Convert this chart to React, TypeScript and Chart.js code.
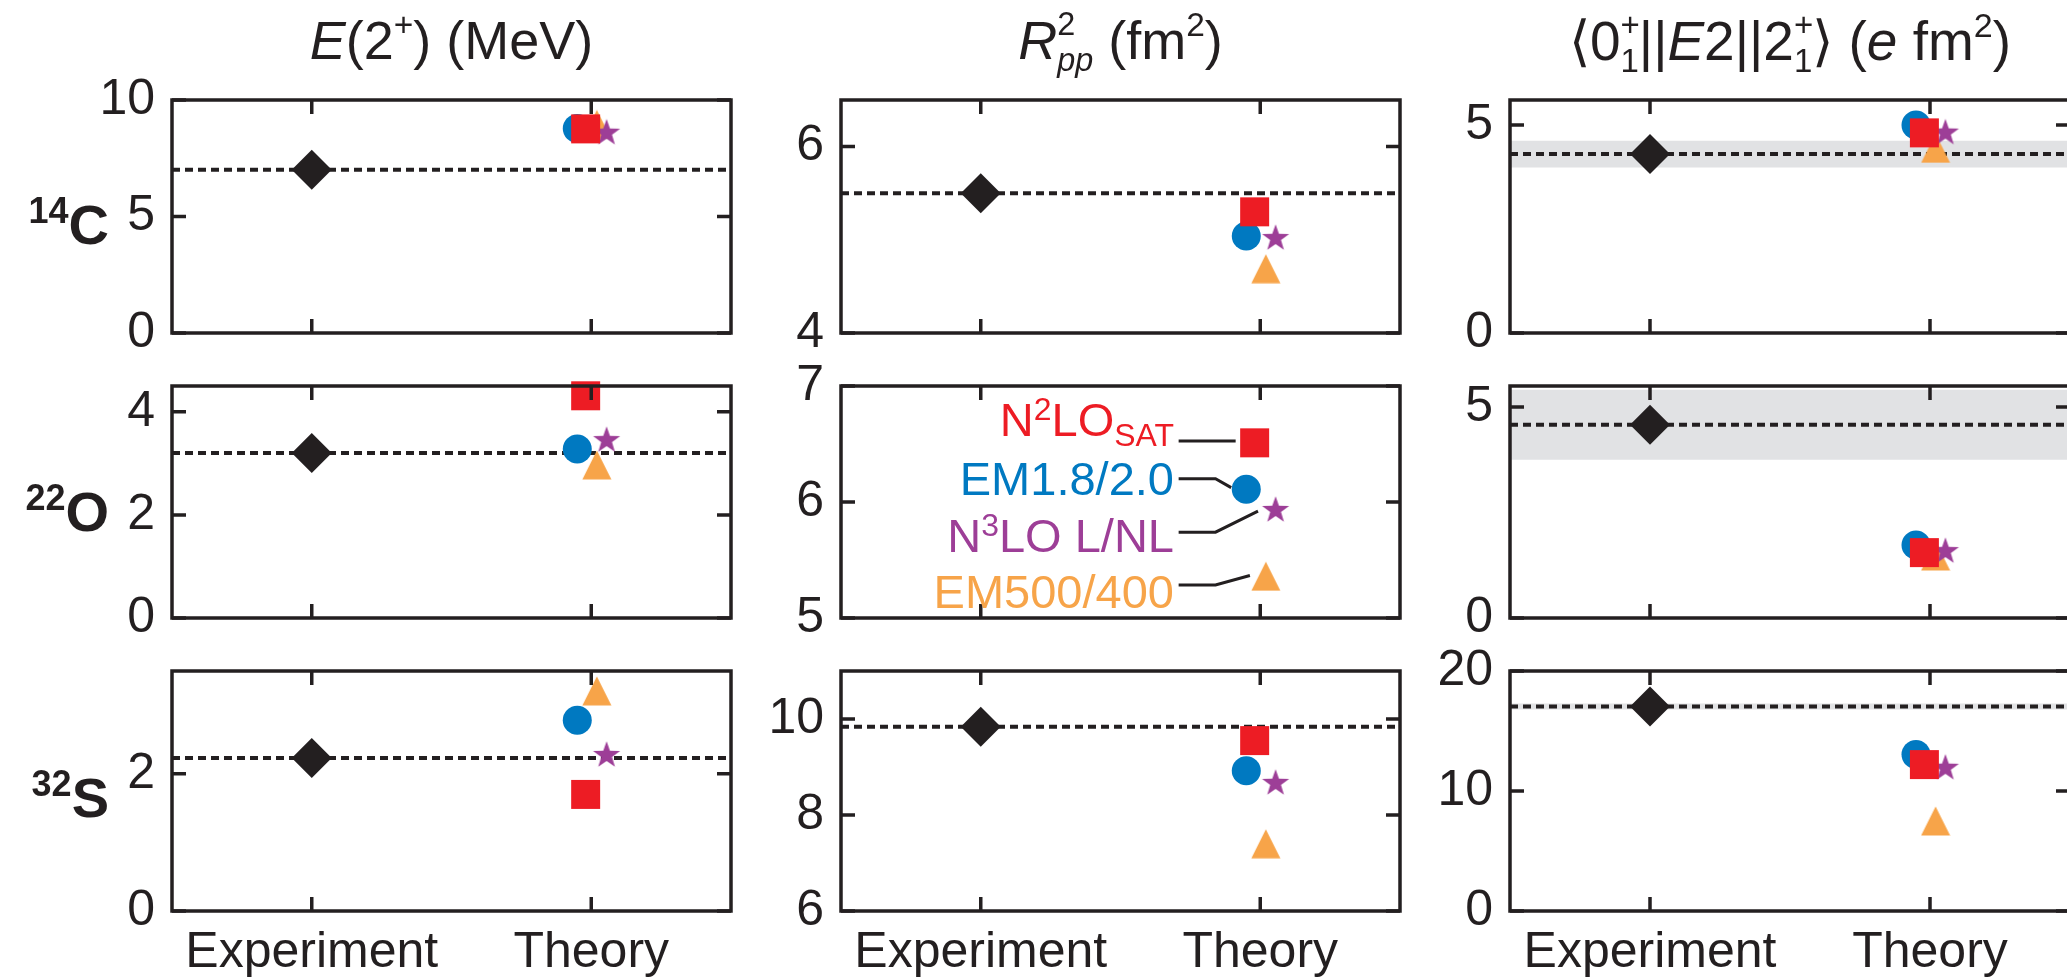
import React, { useEffect, useRef } from "react";
import { Chart, registerables } from "chart.js";
Chart.register(...registerables);

const FONT = "'Liberation Sans', Arial, sans-serif";
const INK = "#231F20";
const RED = "#ED1C24";
const BLUE = "#0079C1";
const PURPLE = "#9D3E97";
const ORANGE = "#F7A449";
const BAND = "#E1E2E4";

Chart.defaults.font.family = FONT;
Chart.defaults.color = INK;

// ---------------- data ----------------
const nuclei = ["14C", "22O", "32S"];
const xLabels = ["Experiment", "Theory"];
const xExperiment = 1;
const xTheoryN2LO = 1.98;
const xTheoryEM18 = 1.95;
const xTheoryN3LO = 2.055;
const xTheoryEM500 = 2.02;

// experiment (rows: 14C, 22O, 32S)
const expE2 = [7.01, 3.2, 2.23];
const expRpp2: (number | null)[] = [5.5, null, 9.84];
const expBE2 = [4.3, 4.58, 17.04];
const expBE2Err = [0.32, 0.83, 0.25];

// theory: E(2+) (MeV)
const n2loSatE2 = [8.76, 4.31, 1.7];
const em1820E2 = [8.78, 3.28, 2.78];
const n3loE2 = [8.64, 3.47, 2.29];
const em500E2 = [8.95, 2.97, 3.21];
// theory: Rpp^2 (fm^2)
const n2loSatRpp2 = [5.3, 6.51, 9.55];
const em1820Rpp2 = [5.04, 6.11, 8.92];
const n3loRpp2 = [5.03, 5.94, 8.69];
const em500Rpp2 = [4.69, 5.36, 7.4];
// theory: <0||E2||2> (e fm^2)
const n2loSatBE2 = [4.81, 1.55, 12.2];
const em1820BE2 = [5.0, 1.73, 13.04];
const n3loBE2 = [4.84, 1.61, 12.02];
const em500BE2 = [4.44, 1.47, 7.5];

// axes (rows x cols)
const yMinE2 = [0, 0, 0];
const yMaxE2 = [10, 4.5, 3.5];
const yTicksE2 = [[0, 5, 10], [0, 2, 4], [0, 2]];
const yMinRpp2 = [4, 5, 6];
const yMaxRpp2 = [6.5, 7, 11];
const yTicksRpp2 = [[4, 6], [5, 6, 7], [6, 8, 10]];
const yMinBE2 = [0, 0, 0];
const yMaxBE2 = [5.6, 5.5, 20];
const yTicksBE2 = [[0, 5], [0, 5], [0, 10, 20]];

// legend connector lines (22O, Rpp^2 panel), data coordinates
const connN2LO = [[1.708, 6.526], [1.912, 6.526]];
const connEM18 = [[1.708, 6.201], [1.84, 6.201], [1.896, 6.124]];
const connN3LO = [[1.708, 5.74], [1.84, 5.74], [1.992, 5.921]];
const connEM500 = [[1.708, 5.285], [1.84, 5.285], [1.963, 5.366]];

// ---------------- layout ----------------
const COL_LEFT = [172, 841, 1510];
const COL_RIGHT = [731, 1400, 2070];
const ROW_TOP = [93, 379, 664];
const ROW_BOTTOM = [340, 625, 911];
const PAD_L = 110;
const PAD_T = 40;
const PAD_R = 40;
const TICK = 14;

function makeTriangle(color: string) {
  const c = document.createElement("canvas");
  c.width = 30;
  c.height = 30;
  const g = c.getContext("2d")!;
  g.beginPath();
  g.moveTo(15, 0.5);
  g.lineTo(29.5, 29.5);
  g.lineTo(0.5, 29.5);
  g.closePath();
  g.fillStyle = color;
  g.fill();
  return c;
}

function makeStar(color: string) {
  const c = document.createElement("canvas");
  c.width = 30;
  c.height = 28;
  const g = c.getContext("2d")!;
  const R = 14.2;
  const r = R * 0.4;
  const cx = 15;
  const cy = 14 + 0.0955 * R;
  g.beginPath();
  for (let i = 0; i < 10; i++) {
    const rad = i % 2 === 0 ? R : r;
    const a = -Math.PI / 2 + (i * Math.PI) / 5;
    const x = cx + rad * Math.cos(a);
    const y = cy + rad * Math.sin(a);
    if (i === 0) g.moveTo(x, y);
    else g.lineTo(x, y);
  }
  g.closePath();
  g.fillStyle = color;
  g.fill();
  return c;
}

const framePlugin = {
  id: "frame",
  afterDraw(chart: any) {
    const { ctx, chartArea: a, scales } = chart;
    ctx.save();
    ctx.strokeStyle = INK;
    ctx.lineWidth = 3.5;
    ctx.lineCap = "butt";
    ctx.strokeRect(a.left, a.top, a.right - a.left, a.bottom - a.top);
    ctx.beginPath();
    scales.y.ticks.forEach((t: any) => {
      const p = scales.y.getPixelForValue(t.value);
      ctx.moveTo(a.left, p);
      ctx.lineTo(a.left + TICK, p);
      ctx.moveTo(a.right, p);
      ctx.lineTo(a.right - TICK, p);
    });
    scales.x.ticks.forEach((t: any) => {
      const p = scales.x.getPixelForValue(t.value);
      ctx.moveTo(p, a.top);
      ctx.lineTo(p, a.top + TICK);
      ctx.moveTo(p, a.bottom);
      ctx.lineTo(p, a.bottom - TICK);
    });
    ctx.stroke();
    ctx.restore();
  },
};

function panelSpec(row: number, col: number) {
  if (col === 0)
    return {
      yMin: yMinE2[row], yMax: yMaxE2[row], yTicks: yTicksE2[row],
      exp: expE2[row] as number | null, err: 0,
      th: [n2loSatE2[row], n3loE2[row], em500E2[row], em1820E2[row]],
    };
  if (col === 1)
    return {
      yMin: yMinRpp2[row], yMax: yMaxRpp2[row], yTicks: yTicksRpp2[row],
      exp: expRpp2[row], err: 0,
      th: [n2loSatRpp2[row], n3loRpp2[row], em500Rpp2[row], em1820Rpp2[row]],
    };
  return {
    yMin: yMinBE2[row], yMax: yMaxBE2[row], yTicks: yTicksBE2[row],
    exp: expBE2[row] as number | null, err: expBE2Err[row],
    th: [n2loSatBE2[row], n3loBE2[row], em500BE2[row], em1820BE2[row]],
  };
}

function lineDs(pts: number[][], extra: any) {
  return {
    data: pts.map(([x, y]) => ({ x, y })),
    showLine: true,
    pointRadius: 0,
    pointHoverRadius: 0,
    borderColor: INK,
    borderWidth: 3,
    tension: 0,
    fill: false,
    ...extra,
  };
}

function Panel({ row, col }: { row: number; col: number }) {
  const ref = useRef<HTMLCanvasElement>(null);
  const plotW = COL_RIGHT[col] - COL_LEFT[col];
  const plotH = ROW_BOTTOM[row] - ROW_TOP[row];
  const xh = row === 2 ? 70 : 40;
  const w = plotW + PAD_L + PAD_R;
  const h = plotH + PAD_T + xh;
  useEffect(() => {
    const spec = panelSpec(row, col);
    const styles: any[] = ["rect", makeStar(PURPLE), makeTriangle(ORANGE), "circle"];
    const radii = [20.5, 15, 15, 14.5];
    const colors = [RED, PURPLE, ORANGE, BLUE];
    const xs = [xTheoryN2LO, xTheoryN3LO, xTheoryEM500, xTheoryEM18];
    const datasets: any[] = [];
    spec.th.forEach((v, i) => {
      datasets.push({
        data: [{ x: xs[i], y: v }],
        showLine: false,
        pointStyle: styles[i],
        pointRadius: radii[i],
        pointHoverRadius: radii[i],
        pointBackgroundColor: colors[i],
        backgroundColor: colors[i],
        pointBorderWidth: 0,
        borderWidth: 0,
        clip: false,
      });
    });
    if (spec.exp !== null) {
      datasets.push({
        data: [{ x: xExperiment, y: spec.exp }],
        showLine: false,
        pointStyle: "rectRot",
        pointRadius: 20,
        pointHoverRadius: 20,
        pointBackgroundColor: INK,
        backgroundColor: INK,
        pointBorderWidth: 0,
        borderWidth: 0,
        clip: false,
      });
      datasets.push(
        lineDs([[0.5, spec.exp], [2.5, spec.exp]], {
          borderDash: [8, 5],
          borderCapStyle: "butt",
          borderWidth: 4,
        })
      );
      if (spec.err > 0) {
        datasets.push(
          lineDs([[0.5, spec.exp + spec.err], [2.5, spec.exp + spec.err]], {
            borderColor: "rgba(0,0,0,0)", borderWidth: 0, fill: "+1", backgroundColor: BAND,
          })
        );
        datasets.push(
          lineDs([[0.5, spec.exp - spec.err], [2.5, spec.exp - spec.err]], {
            borderColor: "rgba(0,0,0,0)", borderWidth: 0,
          })
        );
      }
    }
    if (row === 1 && col === 1) {
      [connN2LO, connEM18, connN3LO, connEM500].forEach((c) => datasets.push(lineDs(c, {})));
    }
    const chart = new Chart(ref.current as HTMLCanvasElement, {
      type: "line",
      data: { datasets },
      options: {
        animation: false,
        responsive: false,
        maintainAspectRatio: false,
        events: [],
        layout: { padding: { left: 0, top: PAD_T, right: PAD_R, bottom: 0 } },
        plugins: { legend: { display: false }, tooltip: { enabled: false } },
        scales: {
          x: {
            type: "linear",
            min: 0.5,
            max: 2.5,
            grid: { display: false, drawTicks: false },
            border: { display: false },
            afterBuildTicks: (s: any) => {
              s.ticks = [{ value: 1 }, { value: 2 }];
            },
            afterFit: (s: any) => {
              s.height = xh;
            },
            ticks: {
              display: row === 2,
              padding: 12,
              maxRotation: 0,
              autoSkip: false,
              font: { size: 50, family: FONT },
              color: INK,
              callback: (v: any) => xLabels[Math.round(v) - 1],
            },
          },
          y: {
            type: "linear",
            min: spec.yMin,
            max: spec.yMax,
            grid: { display: false, drawTicks: false },
            border: { display: false },
            afterBuildTicks: (s: any) => {
              s.ticks = spec.yTicks.map((v) => ({ value: v }));
            },
            afterFit: (s: any) => {
              s.width = PAD_L;
            },
            ticks: {
              padding: 17,
              autoSkip: false,
              font: { size: 50, family: FONT },
              color: INK,
              callback: (v: any) => String(v),
            },
          },
        },
      },
      plugins: [framePlugin],
    } as any);
    return () => chart.destroy();
  }, [row, col]);
  return (
    <canvas
      ref={ref}
      width={w}
      height={h}
      style={{
        position: "absolute",
        left: COL_LEFT[col] - PAD_L,
        top: ROW_TOP[row] - PAD_T,
        width: w,
        height: h,
      }}
    />
  );
}

// ---------------- text helpers ----------------
const Sup = ({ children, size = "0.62em", raise = "-0.7em" }: any) => (
  <span style={{ fontSize: size, position: "relative", top: raise }}>{children}</span>
);
const Sub = ({ children, size = "0.58em", drop = "0.35em" }: any) => (
  <span style={{ fontSize: size, position: "relative", top: drop }}>{children}</span>
);
const Stack = ({ sup, sub }: any) => (
  <span style={{ position: "relative", display: "inline-block", fontSize: "0.6em" }}>
    <span style={{ position: "absolute", left: 0, top: "-0.75em" }}>{sup}</span>
    <span style={{ position: "relative", top: "0.35em" }}>{sub}</span>
  </span>
);

function baselineTop(baseline: number, size: number) {
  return baseline - 0.8465 * size;
}

function Title({ center, baseline, size, children }: any) {
  return (
    <div
      style={{
        position: "absolute",
        left: center - 400,
        width: 800,
        top: baselineTop(baseline, size),
        textAlign: "center",
        fontSize: size,
        lineHeight: 1,
        whiteSpace: "nowrap",
        color: INK,
        fontFamily: FONT,
      }}
    >
      {children}
    </div>
  );
}

function RowLabel({ baseline, mass, sym }: any) {
  return (
    <div
      style={{
        position: "absolute",
        left: 0,
        width: 109,
        top: baselineTop(baseline, 56),
        textAlign: "right",
        fontSize: 56,
        lineHeight: 1,
        fontWeight: "bold",
        whiteSpace: "nowrap",
        color: INK,
        fontFamily: FONT,
      }}
    >
      <span style={{ fontSize: 36, position: "relative", top: -21 }}>{mass}</span>
      {sym}
    </div>
  );
}

function LegendText({ baseline, color, children }: any) {
  return (
    <div
      style={{
        position: "absolute",
        left: 1174 - 600,
        width: 600,
        top: baselineTop(baseline, 47),
        textAlign: "right",
        fontSize: 47,
        lineHeight: 1,
        whiteSpace: "nowrap",
        color,
        fontFamily: FONT,
      }}
    >
      {children}
    </div>
  );
}

const BR = { fontFamily: "'DejaVu Sans', sans-serif", fontWeight: 200 } as any;

export default function App() {
  const centers = COL_LEFT.map((l, i) => (l + COL_RIGHT[i]) / 2);
  const rowBase = [244, 531, 817];
  return (
    <div
      style={{
        position: "absolute",
        left: 0,
        top: 0,
        width: 2067,
        height: 977,
        overflow: "hidden",
        background: "#fff",
        fontFamily: FONT,
      }}
    >
      {[0, 1, 2].map((r) => [0, 1, 2].map((c) => <Panel key={`${r}-${c}`} row={r} col={c} />))}
      <Title center={centers[0]} baseline={59} size={54}>
        <i>E</i>(2<Sup>+</Sup>) (MeV)
      </Title>
      <Title center={centers[1]} baseline={59} size={54}>
        <i>R</i>
        <Stack sup="2" sub={<i>pp</i>} /> (fm<Sup>2</Sup>)
      </Title>
      <Title center={centers[2]} baseline={61} size={55}>
        <span style={BR}>⟨</span>0<Stack sup="+" sub="1" />||<i>E</i>2||2<Stack sup="+" sub="1" />
        <span style={BR}>⟩</span> (<i>e</i> fm<Sup>2</Sup>)
      </Title>
      {nuclei.map((n, i) => {
        const m = n.match(/^(\d+)(\D+)$/)!;
        return <RowLabel key={n} baseline={rowBase[i]} mass={m[1]} sym={m[2]} />;
      })}
      <LegendText baseline={436} color={RED}>
        N<Sup size="0.68em" raise="-0.5em">2</Sup>LO<Sub size="0.68em" drop="0.3em">SAT</Sub>
      </LegendText>
      <LegendText baseline={495} color={BLUE}>
        EM1.8/2.0
      </LegendText>
      <LegendText baseline={552} color={PURPLE}>
        N<Sup size="0.68em" raise="-0.5em">3</Sup>LO L/NL
      </LegendText>
      <LegendText baseline={608} color={ORANGE}>
        EM500/400
      </LegendText>
    </div>
  );
}
